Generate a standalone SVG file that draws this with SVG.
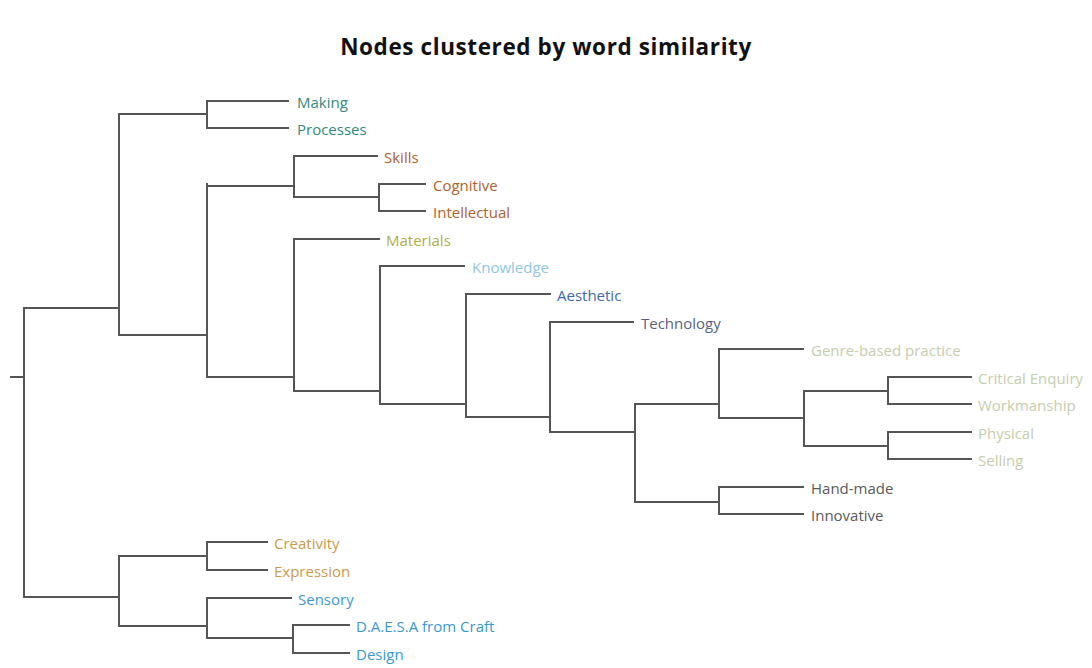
<svg xmlns="http://www.w3.org/2000/svg" width="1092" height="668" viewBox="0 0 1092 668">
  <style>
    .edge { fill: none; stroke: #555555; stroke-width: 2; stroke-linecap: square; }
    .lbl { font-family: "Open Sans", "Noto Sans", sans-serif; font-size: 15px; dominant-baseline: central; }
    .title { font-family: "Open Sans", "Noto Sans", sans-serif; font-size: 22.5px; font-weight: bold; fill: #111; text-anchor: middle; letter-spacing: 0.6px; }
    .teal { fill: #348a7c; }
    .rust { fill: #b0612e; }
    .olive { fill: #b0ad4c; }
    .sky { fill: #8fc6e4; }
    .blue { fill: #3d69a6; }
    .slate { fill: #5b5f7c; }
    .pale { fill: #c6cdae; }
    .grey { fill: #5a5a5a; }
    .gold { fill: #c99a4c; }
    .azure { fill: #3b98cf; }
  </style>
  <rect width="1092" height="668" fill="#ffffff"/>
  <text class="title" x="546" y="55">Nodes clustered by word similarity</text>

  <g id="connectors">
    <!-- root -->
    <path class="edge" d="M11 377 H24 M24 308 V597 M24 308 H119 M24 597 H119"/>
    <!-- upper cluster -->
    <path class="edge" d="M119 114 V335 M119 114 H207 M119 335 H207"/>
    <path class="edge" d="M207 101 V128 M207 101 H288 M207 128 H288"/>
    <path class="edge" d="M207 184 V377 M207 186 H294 M207 377 H294"/>
    <path class="edge" d="M294 156 V197 M294 156 H377 M294 197 H379"/>
    <path class="edge" d="M379 184 V211 M379 184 H425 M379 211 H425"/>
    <path class="edge" d="M294 239 V391 M294 239 H379 M294 391 H380"/>
    <path class="edge" d="M380 266 V404 M380 266 H464 M380 404 H466"/>
    <path class="edge" d="M466 294 V417 M466 294 H550 M466 417 H550"/>
    <path class="edge" d="M550 322 V432 M550 322 H633 M550 432 H635"/>
    <path class="edge" d="M635 404 V502 M635 404 H719 M635 502 H719"/>
    <path class="edge" d="M719 349 V418 M719 349 H803 M719 418 H804"/>
    <path class="edge" d="M804 391 V446 M804 391 H888 M804 446 H888"/>
    <path class="edge" d="M888 377 V404 M888 377 H971 M888 404 H971"/>
    <path class="edge" d="M888 432 V459 M888 432 H971 M888 459 H971"/>
    <path class="edge" d="M719 487 V514 M719 487 H803 M719 514 H803"/>
    <!-- lower cluster -->
    <path class="edge" d="M119 556 V626 M119 556 H207 M119 626 H207"/>
    <path class="edge" d="M207 542 V570 M207 542 H267 M207 570 H267"/>
    <path class="edge" d="M207 598 V638 M207 598 H291 M207 638 H293"/>
    <path class="edge" d="M293 625 V653 M293 625 H349 M293 653 H349"/>
  </g>

  <g id="n-making"><text class="lbl teal" x="297" y="102">Making</text></g>
  <g id="n-processes"><text class="lbl teal" x="297" y="129">Processes</text></g>
  <g id="n-skills"><text class="lbl rust" x="384" y="157">Skills</text></g>
  <g id="n-cognitive"><text class="lbl rust" x="433" y="185">Cognitive</text></g>
  <g id="n-intellectual"><text class="lbl rust" x="433" y="212">Intellectual</text></g>
  <g id="n-materials"><text class="lbl olive" x="386" y="240">Materials</text></g>
  <g id="n-knowledge"><text class="lbl sky" x="472" y="267">Knowledge</text></g>
  <g id="n-aesthetic"><text class="lbl blue" x="557" y="295">Aesthetic</text></g>
  <g id="n-technology"><text class="lbl slate" x="641" y="323">Technology</text></g>
  <g id="n-genre"><text class="lbl pale" x="811" y="350">Genre-based practice</text></g>
  <g id="n-critical"><text class="lbl pale" x="978" y="378">Critical Enquiry</text></g>
  <g id="n-workmanship"><text class="lbl pale" x="978" y="405">Workmanship</text></g>
  <g id="n-physical"><text class="lbl pale" x="978" y="433">Physical</text></g>
  <g id="n-selling"><text class="lbl pale" x="978" y="460">Selling</text></g>
  <g id="n-handmade"><text class="lbl grey" x="811" y="488">Hand-made</text></g>
  <g id="n-innovative"><text class="lbl grey" x="811" y="515">Innovative</text></g>
  <g id="n-creativity"><text class="lbl gold" x="274" y="543">Creativity</text></g>
  <g id="n-expression"><text class="lbl gold" x="274" y="571">Expression</text></g>
  <g id="n-sensory"><text class="lbl azure" x="298" y="599">Sensory</text></g>
  <g id="n-daesa"><text class="lbl azure" x="356" y="626">D.A.E.S.A from Craft</text></g>
  <g id="n-design"><text class="lbl azure" x="356" y="654">Design</text></g>
</svg>
